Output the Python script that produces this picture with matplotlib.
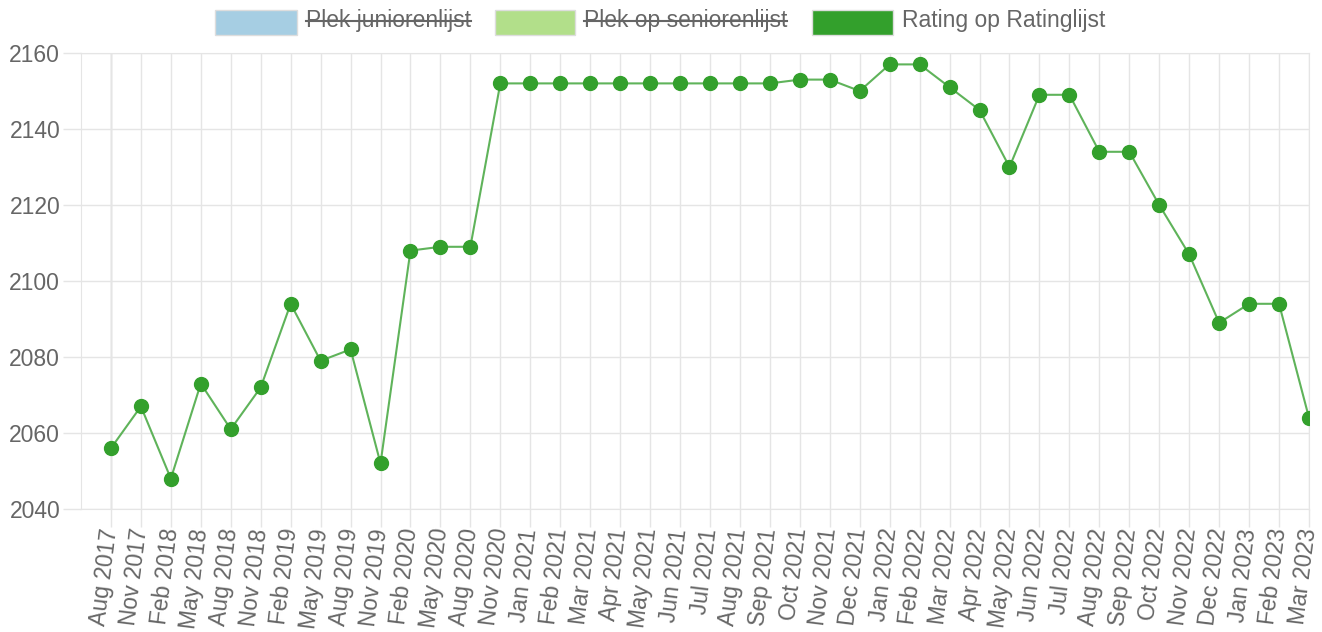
import matplotlib
matplotlib.use('Agg')
import matplotlib.pyplot as plt
from matplotlib.patches import Rectangle
from matplotlib.lines import Line2D

months = ['Aug 2017', 'Nov 2017', 'Feb 2018', 'May 2018', 'Aug 2018', 'Nov 2018',
          'Feb 2019', 'May 2019', 'Aug 2019', 'Nov 2019', 'Feb 2020', 'May 2020',
          'Aug 2020', 'Nov 2020', 'Jan 2021', 'Feb 2021', 'Mar 2021', 'Apr 2021',
          'May 2021', 'Jun 2021', 'Jul 2021', 'Aug 2021', 'Sep 2021', 'Oct 2021',
          'Nov 2021', 'Dec 2021', 'Jan 2022', 'Feb 2022', 'Mar 2022', 'Apr 2022',
          'May 2022', 'Jun 2022', 'Jul 2022', 'Aug 2022', 'Sep 2022', 'Oct 2022',
          'Nov 2022', 'Dec 2022', 'Jan 2023', 'Feb 2023', 'Mar 2023']
rating = [2056, 2067, 2048, 2073, 2061, 2072, 2094, 2079, 2082, 2052, 2108, 2109,
          2109, 2152, 2152, 2152, 2152, 2152, 2152, 2152, 2152, 2152, 2152, 2153,
          2153, 2150, 2157, 2157, 2151, 2145, 2130, 2149, 2149, 2134, 2134, 2120,
          2107, 2089, 2094, 2094, 2064]

legend_labels = ['Plek juniorenlijst', 'Plek op seniorenlijst', 'Rating op Ratinglijst']
legend_colors = ['#a6cee3', '#b2df8a', '#33a02c']
legend_hidden = [True, True, False]

plt.rcParams['font.family'] = ['Liberation Sans', 'DejaVu Sans']
grid_c = '#e5e5e5'
txt_c = '#666666'
fs = 16.5

fig = plt.figure(figsize=(13.22, 6.32), dpi=100)
ax = fig.add_axes([81 / 1322, 1 - 509 / 632, (1309 - 81) / 1322, (509 - 53) / 632])

x = list(range(len(months)))
ax.plot(x, rating, color='#5fb35a', lw=1.5, zorder=3)
ax.plot(x, rating, 'o', color='#33a02c', ms=10, zorder=4)

ax.set_xlim(-1, len(months) - 1)
ax.set_ylim(2040, 2160)
ax.set_yticks(range(2040, 2161, 20))
ax.set_xticks(x)
ax.set_xticklabels(months, rotation=83, ha='right', va='center', rotation_mode='anchor')
ax.tick_params(axis='both', colors=grid_c, labelcolor=txt_c, labelsize=fs,
               length=13, width=1, pad=2)
ax.tick_params(axis='x', pad=1)
ax.grid(True, color=grid_c, lw=1, zorder=0)
ax.axvline(0, color='#c4c4c4', lw=1, zorder=1)
for s in ax.spines.values():
    s.set_color(grid_c)

# legend at top, chart.js style
boxes = [(215, 297), (495, 575), (812, 893)]
fig.canvas.draw()
r = fig.canvas.get_renderer()
for (x0, x1), lab, col, hid in zip(boxes, legend_labels, legend_colors, legend_hidden):
    fig.patches.append(Rectangle((x0 / 1322, 1 - 35 / 632), (x1 - x0) / 1322, 25 / 632,
                                 transform=fig.transFigure, facecolor=col,
                                 edgecolor='#dddddd', lw=1))
    t = fig.text((x1 + 9) / 1322, 1 - 21 / 632, lab, fontsize=fs, color=txt_c,
                 ha='left', va='center')
    if hid:
        bb = t.get_window_extent(renderer=r)
        ym = 1 - 21 / 632
        fig.lines.append(Line2D([bb.x0 / 1322, bb.x1 / 1322], [ym, ym],
                                transform=fig.transFigure, color=txt_c, lw=1.5))

fig.savefig('out.png', dpi=100)
